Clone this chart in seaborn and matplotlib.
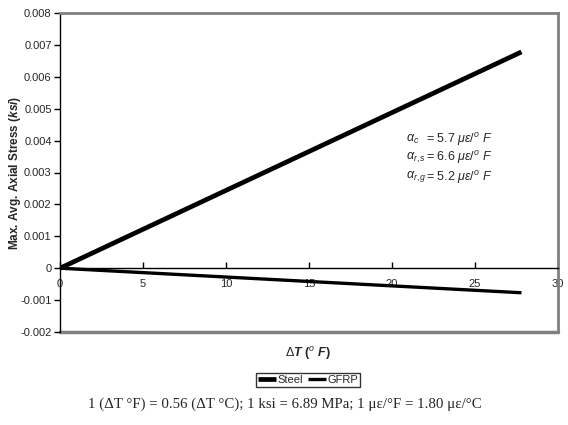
import matplotlib
matplotlib.use("Agg")
import matplotlib.pyplot as plt
import seaborn as sns
import pandas as pd

sns.set_style("white")
plt.rcParams['font.family'] = ['Liberation Sans', 'DejaVu Sans']
plt.rcParams['mathtext.fontset'] = 'custom'
plt.rcParams['mathtext.rm'] = 'Liberation Sans'
plt.rcParams['mathtext.it'] = 'Liberation Sans:italic'
plt.rcParams['mathtext.bf'] = 'Liberation Sans:bold'
plt.rcParams['mathtext.bfit'] = 'Liberation Sans:bold:italic'

# data
delta_t = [0, 27.8]
steel = [0, 0.00678]
gfrp = [0, -0.00077]
x_ticks = [0, 5, 10, 15, 20, 25, 30]
y_ticks = [-0.002, -0.001, 0, 0.001, 0.002, 0.003, 0.004, 0.005, 0.006, 0.007, 0.008]
y_tick_labels = ["-0.002", "-0.001", "0", "0.001", "0.002", "0.003", "0.004",
                 "0.005", "0.006", "0.007", "0.008"]

df = pd.DataFrame({"dT": delta_t * 2,
                   "stress": steel + gfrp,
                   "Series": ["Steel"] * 2 + ["GFRP"] * 2})

fig = plt.figure(figsize=(5.68, 4.25), dpi=100)
ax = fig.add_axes([60/568, 1-332/425, 498/568, 319/425])

sns.lineplot(data=df[df.Series == "Steel"], x="dT", y="stress", color="black",
             lw=3.4, ax=ax, label="Steel", solid_capstyle="butt")
sns.lineplot(data=df[df.Series == "GFRP"], x="dT", y="stress", color="black",
             lw=2.4, ax=ax, label="GFRP", solid_capstyle="butt")

ax.set_xlim(0, 30)
ax.set_ylim(-0.002, 0.008)
ax.set_xticks(x_ticks)
ax.set_xticklabels([str(t) for t in x_ticks])
ax.set_yticks(y_ticks)
ax.set_yticklabels(y_tick_labels)

gray = "#808080"
for s in ["top", "right"]:
    ax.spines[s].set_color(gray)
    ax.spines[s].set_linewidth(2)
ax.spines["left"].set_color("black")
ax.spines["left"].set_linewidth(1)
ax.spines["bottom"].set_position(("data", 0))
ax.spines["bottom"].set_color("black")
ax.spines["bottom"].set_linewidth(1)
ax.plot([0, 1], [0, 0], transform=ax.transAxes, color=gray, lw=2.5,
        clip_on=False, zorder=0.5)

ax.tick_params(axis="x", direction="in", length=4, width=1, color="black",
               labelsize=8, pad=8, bottom=True)
ax.tick_params(axis="y", direction="out", length=4, width=1, color="black",
               labelsize=8, pad=2, left=True)

ax.set_xlabel("")
ax.set_ylabel(r"Max. Avg. Axial Stress ($\mathbfit{ksi}$)", fontsize=8.5,
              fontweight="bold", va="center")
ax.yaxis.set_label_coords((15 - 60) / 498, 0.5)
fig.text(308/568, 1-353/425, r"$\Delta\mathbfit{T}$ ($^o$ $\mathbfit{F}$)",
         fontsize=9, fontweight="bold", ha="center", va="center")

ann_sym = [r"$\alpha_c$", r"$\alpha_{r,s}$", r"$\alpha_{r,g}$"]
ann_val = [r"= 5.7 $\mu\varepsilon$/$^o$ $F$",
           r"= 6.6 $\mu\varepsilon$/$^o$ $F$",
           r"= 5.2 $\mu\varepsilon$/$^o$ $F$"]
for i in range(3):
    yy = 1 - (139 + 19 * i) / 425
    fig.text(406/568, yy, ann_sym[i], fontsize=9, ha="left", va="center")
    fig.text(426/568, yy, ann_val[i], fontsize=9, ha="left", va="center")

leg = ax.legend(loc="center", bbox_to_anchor=(308/568, 1-380/425),
                bbox_transform=fig.transFigure, ncol=2, frameon=True,
                fontsize=8, handlelength=1.6, handletextpad=0.1,
                columnspacing=0.5, borderpad=0.2, borderaxespad=0,
                fancybox=False)
leg.get_frame().set_edgecolor("black")
leg.get_frame().set_linewidth(1)

fig.text(285/568, 1-404/425,
         "1 (ΔT °F) = 0.56 (ΔT °C); 1 ksi = 6.89 MPa; 1 με/°F = 1.80 με/°C",
         fontsize=10.7, family=["Liberation Serif", "DejaVu Serif"],
         ha="center", va="center")

fig.savefig("out.png", dpi=100)
